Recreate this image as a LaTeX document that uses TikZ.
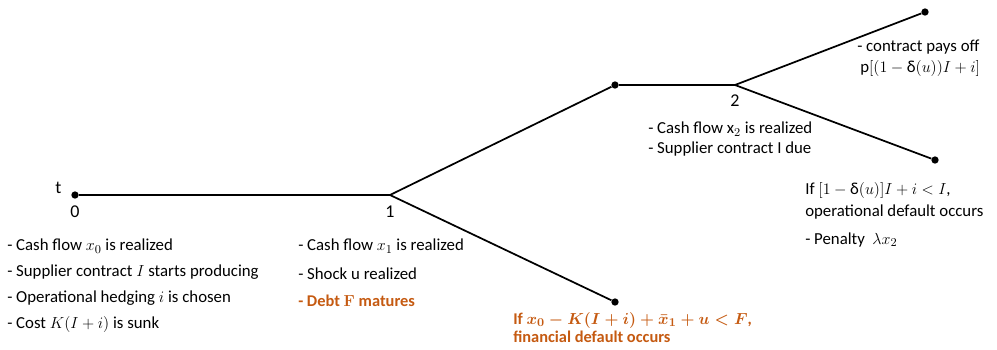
\documentclass[tikz,border=0pt]{standalone}
\usepackage{fontspec}
\setmainfont{Carlito}
\usetikzlibrary{positioning}

\definecolor{debtorange}{RGB}{197,90,17}
\newcommand{\dlt}{\mbox{δ}}

\tikzset{
	pt/.style={circle, fill, inner sep=0pt, minimum size=5.5pt},
	branch/.style={line width=1.3pt},
	txt/.style={anchor=west, inner sep=0pt, font=\fontsize{12.6}{14}\selectfont},
	warn/.style={txt, text=debtorange, font=\fontsize{12.3}{14}\selectfont\bfseries\boldmath},
	tick/.style={inner sep=1pt, font=\fontsize{13.5}{15}\selectfont}
}

\begin{document}
\begin{tikzpicture}[x=0.75pt, y=-0.75pt]
	\useasboundingbox (0,0) rectangle (997,350);
	% tree
	\node[pt] (t0) at (75,195) {};
	\coordinate (t1) at (390,195);
	\node[pt] (up) at (615,85) {};
	\coordinate (t2) at (735,85);
	\node[pt] (pay) at (925,12) {};
	\node[pt] (opdef) at (935,160) {};
	\node[pt] (findef) at (615,302) {};
	\draw[branch] (t0) -- (t1) -- (up) -- (t2) -- (pay);
	\draw[branch] (t2) -- (opdef);
	\draw[branch] (t1) -- (findef);
	% time labels
	\node[tick, left=6pt of t0, yshift=5pt] (tlab) {t};
	\node[tick] (n0) at (75,212) {0};
	\node[tick] (n1) at (390,212) {1};
	\node[tick] (n2) at (735,101) {2};
	% date 0
	\node[txt] (a1) at (7,246) {- Cash flow $x_0$ is realized};
	\node[txt] (a2) at (7,272) {- Supplier contract $I$ starts producing};
	\node[txt] (a3) at (7,298) {- Operational hedging $i$ is chosen};
	\node[txt] (a4) at (7,324) {- Cost $K(I+i)$ is sunk};
	% date 1
	\node[txt] (b1) at (298,246) {- Cash flow $x_1$ is realized};
	\node[txt] (b2) at (298,274) {- Shock $\mathrm{u}$ realized};
	\node[warn] (b3) at (298,301) {- Debt $\mathbf{F}$ matures};
	\node[warn] (c1) at (513,320) {If $x_0-K(I+i)+\bar{x}_1+u<F$,};
	\node[warn, below=2pt of c1.south west, anchor=north west] (c2) {financial default occurs};
	% date 2
	\node[txt] (d1) at (648,129) {- Cash flow $\mathrm{x}_2$ is realized};
	\node[txt] (d2) at (648,149) {- Supplier contract I due};
	\node[txt] (e1) at (857,47) {- contract pays off};
	\node[txt] (e2) at (860,68) {$\mathrm{p}\big[\big(1-\dlt(u)\big)I+i\big]$};
	\node[txt] (f1) at (805,190) {If $[1-\dlt(u)]I+i<I$,};
	\node[txt] (f2) at (805,212) {operational default occurs};
	\node[txt] (f3) at (805,240) {- Penalty\ \ $\lambda x_2$};
\end{tikzpicture}
\end{document}
